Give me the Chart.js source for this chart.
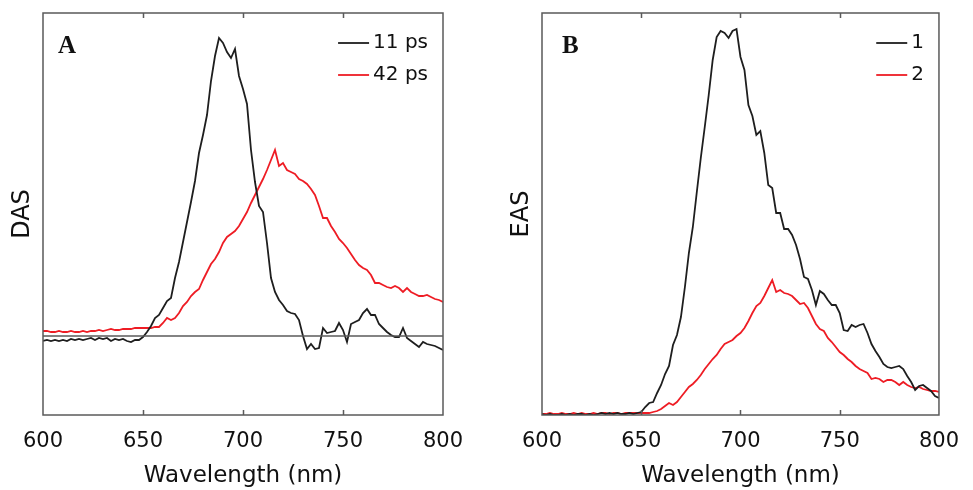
<!DOCTYPE html>
<html>
<head>
<meta charset="utf-8">
<script src="https://cdn.jsdelivr.net/npm/chart.js@4.4.1/dist/chart.umd.min.js"></script>
<style>
  body { margin: 0; background: #fff; width: 973px; height: 490px; position: relative; overflow: hidden; }
  canvas { position: absolute; top: 0; }
  #chart-a { left: 0; }
  #chart-b { left: 490px; }
</style>
</head>
<body>
<canvas id="chart-a" width="480" height="490"></canvas>
<canvas id="chart-b" width="483" height="490"></canvas>
<script>
// wavelength grid (nm)
const wavelengths = [
  600,602,604,606,608,610,612,614,616,618,620,622,624,626,628,630,632,634,636,638,640,642,644,646,648,
  650,652,654,656,658,660,662,664,666,668,670,672,674,676,678,680,682,684,686,688,690,692,694,696,698,700,
  702,704,706,708,710,712,714,716,718,720,722,724,726,728,730,732,734,736,738,740,742,744,746,748,750,
  752,754,756,758,760,762,764,766,768,770,772,774,776,778,780,782,784,786,788,790,792,794,796,798,800
];
const xTicks = [600, 650, 700, 750, 800];

// panel A: DAS
const das11ps = [
  -0.05,-0.04,-0.05,-0.04,-0.05,-0.04,-0.05,-0.03,-0.04,-0.03,-0.04,-0.03,-0.02,-0.04,-0.02,-0.03,-0.02,-0.05,-0.03,-0.04,-0.03,-0.05,-0.06,-0.04,-0.04,
  -0.01,0.04,0.10,0.18,0.21,0.28,0.35,0.38,0.58,0.74,0.94,1.14,1.34,1.55,1.83,2.01,2.21,2.55,2.80,2.98,2.93,2.84,2.78,2.87,2.60,2.47,
  2.32,1.86,1.54,1.30,1.24,0.93,0.58,0.44,0.36,0.31,0.25,0.23,0.22,0.16,0.00,-0.13,-0.08,-0.13,-0.12,0.08,0.03,0.04,0.05,0.13,0.06,
  -0.06,0.12,0.14,0.16,0.23,0.27,0.21,0.21,0.12,0.08,0.04,0.01,-0.01,-0.01,0.08,-0.02,-0.05,-0.08,-0.11,-0.06,-0.08,-0.09,-0.10,-0.12,-0.14
];
const das42ps = [
  0.05,0.05,0.04,0.04,0.05,0.04,0.04,0.05,0.04,0.04,0.05,0.04,0.05,0.05,0.06,0.05,0.06,0.07,0.06,0.06,0.07,0.07,0.07,0.08,0.08,
  0.08,0.08,0.08,0.09,0.09,0.13,0.18,0.16,0.18,0.23,0.30,0.34,0.40,0.44,0.47,0.56,0.64,0.72,0.77,0.84,0.93,0.99,1.02,1.05,1.10,1.17,
  1.24,1.33,1.41,1.49,1.57,1.66,1.76,1.86,1.70,1.73,1.66,1.64,1.62,1.57,1.55,1.52,1.47,1.41,1.30,1.18,1.18,1.10,1.04,0.97,0.93,
  0.88,0.82,0.76,0.71,0.68,0.66,0.61,0.53,0.53,0.51,0.49,0.48,0.50,0.48,0.44,0.48,0.44,0.42,0.40,0.40,0.41,0.39,0.37,0.36,0.34
];
const dasZero = [0, 0];

// panel B: EAS
const eas1 = [
  0.01,0.00,0.01,0.00,0.00,0.01,0.00,0.01,0.00,0.01,0.01,0.00,0.01,0.00,0.01,0.02,0.01,0.02,0.01,0.02,0.01,0.01,0.02,0.01,0.02,
  0.03,0.08,0.12,0.13,0.22,0.30,0.41,0.49,0.70,0.80,0.98,1.28,1.62,1.88,2.23,2.57,2.88,3.20,3.55,3.78,3.84,3.82,3.77,3.84,3.86,3.58,
  3.45,3.10,2.99,2.80,2.84,2.62,2.30,2.27,2.02,2.02,1.86,1.86,1.80,1.70,1.56,1.38,1.36,1.25,1.10,1.24,1.21,1.15,1.10,1.10,1.02,
  0.85,0.84,0.90,0.88,0.90,0.91,0.82,0.71,0.64,0.58,0.51,0.48,0.47,0.48,0.49,0.46,0.39,0.33,0.25,0.29,0.30,0.27,0.24,0.19,0.17
];
const eas2 = [
  0.01,0.01,0.02,0.01,0.01,0.02,0.01,0.01,0.02,0.01,0.02,0.01,0.01,0.02,0.01,0.02,0.02,0.01,0.02,0.02,0.01,0.02,0.02,0.02,0.02,
  0.02,0.02,0.02,0.03,0.04,0.06,0.09,0.12,0.10,0.13,0.18,0.23,0.28,0.31,0.35,0.40,0.46,0.51,0.56,0.60,0.66,0.71,0.73,0.75,0.79,0.82,
  0.87,0.94,1.02,1.09,1.12,1.19,1.27,1.35,1.23,1.25,1.22,1.21,1.19,1.15,1.11,1.12,1.07,0.99,0.91,0.86,0.84,0.77,0.73,0.68,0.63,
  0.60,0.56,0.53,0.49,0.46,0.44,0.42,0.36,0.37,0.36,0.33,0.35,0.35,0.33,0.30,0.33,0.30,0.28,0.27,0.28,0.26,0.25,0.24,0.24,0.23
];

const BLACK = '#1e1e1e';
const RED = '#ee1c24';
const FRAME = '#5a5a5a';

function toPoints(ys) {
    return ys.map((y, i) => ({x: wavelengths[i], y: y}));
}

// frame, inner ticks, panel letter and legend
const framePlugin = {
    id: 'frame',
    afterDatasetsDraw(chart, args, opts) {
        const {ctx, chartArea: a, scales: {x}} = chart;
        ctx.save();
        ctx.strokeStyle = FRAME;
        ctx.lineWidth = 1.5;
        ctx.strokeRect(a.left, a.top, a.right - a.left, a.bottom - a.top);
        ctx.beginPath();
        xTicks.slice(1, -1).forEach(v => {
            const px = Math.round(x.getPixelForValue(v)) + 0.5;
            ctx.moveTo(px, a.top); ctx.lineTo(px, a.top + 5);
            ctx.moveTo(px, a.bottom); ctx.lineTo(px, a.bottom - 5);
        });
        ctx.stroke();

        ctx.fillStyle = '#111';
        ctx.font = 'bold 25px "Liberation Serif", serif';
        ctx.textBaseline = 'alphabetic';
        ctx.textAlign = 'left';
        ctx.fillText(opts.letter, a.left + opts.letterDx, a.top + 40);

        // legend
        ctx.font = '20px "DejaVu Sans", sans-serif';
        const items = chart.data.datasets.filter(d => d.label);
        const w = Math.max(...items.map(d => ctx.measureText(d.label).width));
        const tx = a.right - 15 - w;
        ctx.textBaseline = 'middle';
        items.forEach((d, i) => {
            const y = a.top + 30 + i * 32;
            ctx.strokeStyle = d.borderColor;
            ctx.lineWidth = 1.8;
            ctx.beginPath();
            ctx.moveTo(tx - 35, y); ctx.lineTo(tx - 4, y);
            ctx.stroke();
            ctx.fillStyle = '#111';
            ctx.fillText(d.label, tx, y);
        });
        ctx.restore();
    }
};

function makePanel(id, datasets, yTitle, yMin, yMax, yAxisWidth, titlePad, rightPad, letter, letterDx) {
    const config = {
        type: 'line',
        data: {datasets: datasets},
        options: {
            responsive: false,
            animation: false,
            devicePixelRatio: 1,
            layout: {padding: {top: 13, right: rightPad, bottom: 0, left: 0}},
            elements: {point: {radius: 0}, line: {tension: 0, borderWidth: 1.8}},
            plugins: {
                legend: {display: false},
                tooltip: {enabled: false},
                frame: {letter: letter, letterDx: letterDx}
            },
            scales: {
                x: {
                    type: 'linear',
                    min: 600,
                    max: 800,
                    afterFit: s => { s.height = 75; },
                    afterBuildTicks: s => { s.ticks = xTicks.map(v => ({value: v})); },
                    grid: {display: false, drawTicks: false},
                    border: {display: false},
                    ticks: {
                        padding: 14,
                        color: '#111',
                        font: {family: '"DejaVu Sans", sans-serif', size: 21},
                        maxRotation: 0
                    },
                    title: {
                        display: true,
                        text: 'Wavelength (nm)',
                        color: '#111',
                        padding: {top: 0, bottom: 0},
                        font: {family: '"DejaVu Sans", sans-serif', size: 23}
                    }
                },
                y: {
                    min: yMin,
                    max: yMax,
                    afterFit: s => { s.width = yAxisWidth; },
                    grid: {display: false, drawTicks: false},
                    border: {display: false},
                    ticks: {display: false},
                    title: {
                        display: true,
                        text: yTitle,
                        color: '#111',
                        padding: {top: titlePad, bottom: 0},
                        font: {family: '"DejaVu Sans", sans-serif', size: 24}
                    }
                }
            }
        },
        plugins: [framePlugin]
    };
    const ctx = document.getElementById(id).getContext('2d');
    return new Chart(ctx, config);
}

window.chartA = makePanel('chart-a', [
    {data: [{x: 600, y: dasZero[0]}, {x: 800, y: dasZero[1]}], borderColor: FRAME, borderWidth: 1.5},
    {label: '11 ps', data: toPoints(das11ps), borderColor: BLACK},
    {label: '42 ps', data: toPoints(das42ps), borderColor: RED}
], 'DAS', -0.79, 3.23, 43, 8.6, 37, 'A', 15);

window.chartB = makePanel('chart-b', [
    {label: '1', data: toPoints(eas1), borderColor: BLACK},
    {label: '2', data: toPoints(eas2), borderColor: RED}
], 'EAS', 0, 4.02, 52, 17.3, 30, 'B', 20);
</script>
</body>
</html>
